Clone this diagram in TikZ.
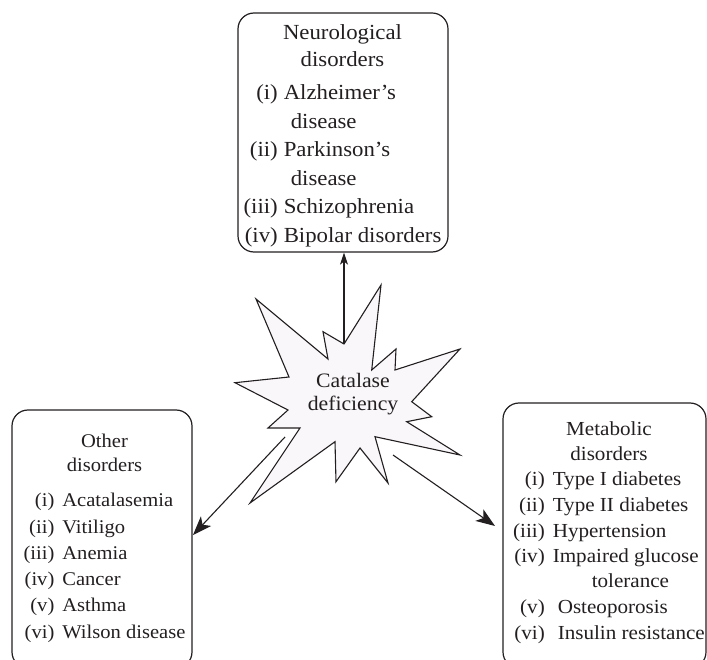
\documentclass[tikz,border=0pt]{standalone}
\usepackage{fontspec}
\setmainfont[FakeStretch=1.06]{Liberation Serif}
\usetikzlibrary{arrows.meta}
\definecolor{burstfill}{RGB}{250,247,250}
\definecolor{txt}{RGB}{35,31,32}
\begin{document}
\begin{tikzpicture}[x=1pt,y=-1pt,
  box/.style={draw=txt, rounded corners=16pt, line width=1.2pt, inner sep=0pt},
  listtext/.style={anchor=base, inner sep=0pt, text=txt},
  burst/.style={draw=txt, fill=burstfill, line width=1.1pt, line join=miter},
  arr/.style={draw=txt, line width=1.1pt},
  bigtip/.style={-{Stealth[length=19pt,width=14pt,inset=5pt]}},
  smalltip/.style={-{Stealth[length=12pt,width=8pt,inset=3pt]}}]
\useasboundingbox (0,0) rectangle (707,660);
\clip (0,0) rectangle (707,660);

% boxes
\node[box, minimum width=210pt, minimum height=239pt] (tbox) at (343,132.5) {};
\node[box, minimum width=180pt, minimum height=258pt] (lbox) at (102,539) {};
\node[box, minimum width=203pt, minimum height=265pt] (rbox) at (604.5,535.5) {};

% box texts
\node[listtext, font=\fontsize{21.5}{28.5}\selectfont] (ttext) at (342.5,40) {%
\begin{tabular}[t]{@{}r@{\hspace{6pt}}l@{}}
\multicolumn{2}{c}{Neurological}\\[-2pt]
\multicolumn{2}{c}{disorders}\\[5pt]
(i) & Alzheimer's\\
 & \hspace{7pt}disease\\
(ii) & Parkinson's\\
 & \hspace{7pt}disease\\
(iii) & Schizophrenia\\
(iv) & Bipolar disorders
\end{tabular}};

\node[listtext, font=\fontsize{19.4}{26.3}\selectfont] (ltext) at (104.5,447.7) {%
\begin{tabular}[t]{@{}r@{\hspace{8pt}}l@{}}
\multicolumn{2}{c}{Other}\\[-2.3pt]
\multicolumn{2}{c}{disorders}\\[8.7pt]
(i) & Acatalasemia\\
(ii) & Vitiligo\\
(iii) & Anemia\\
(iv) & Cancer\\
(v) & Asthma\\
(vi) & Wilson disease
\end{tabular}};

\node[listtext, font=\fontsize{19.9}{25.5}\selectfont] (rtext) at (609,435) {%
\begin{tabular}[t]{@{}r@{\hspace{8pt}}l@{}}
\multicolumn{2}{c}{Metabolic}\\
\multicolumn{2}{c}{disorders}\\
(i) & Type I diabetes\\
(ii) & Type II diabetes\\
(iii) & Hypertension\\
(iv) & Impaired glucose\\
 & \hspace{39pt}tolerance\\
(v) & \hspace{5pt}Osteoporosis\\
(vi) & \hspace{5pt}Insulin resistance
\end{tabular}};

% starburst
\draw[burst] (381,285) -- (371.7,370) -- (396,349) -- (395,370) -- (460,349)
  -- (411.7,401.7) -- (431.7,416.7) -- (406.7,421.7) -- (460,455)
  -- (375,436.7) -- (388,483) -- (360,448) -- (336,481.7) -- (335,441.7)
  -- (250,503) -- (300,428) -- (268,428) -- (288,410) -- (235,382.7)
  -- (289,377) -- (256,299) -- (328,359) -- (323,331.7) -- (344,344) -- cycle;
\node[align=center, text=txt, inner sep=0pt, font=\fontsize{20.5}{23.5}\selectfont] (cat) at (353,394) {Catalase\\deficiency};

% connectors
\coordinate (notch) at (344,344);
\coordinate (lstart) at (285,437);
\coordinate (ltip) at (193,535);
\coordinate (rstart) at (393,455);
\coordinate (rtip) at (495,526);
\draw[arr, smalltip] (notch) -- (notch |- tbox.south);
\draw[arr, bigtip] (lstart) -- (ltip);
\draw[arr, bigtip] (rstart) -- (rtip);
\end{tikzpicture}
\end{document}
